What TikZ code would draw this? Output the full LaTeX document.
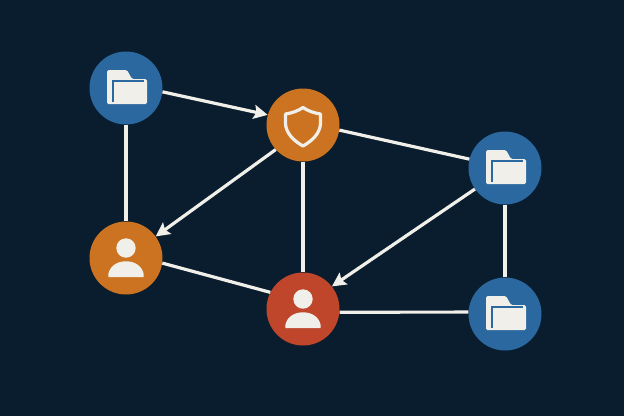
\documentclass[tikz,border=0pt]{standalone}
\usepackage{tikz}
\usetikzlibrary{arrows.meta}

\definecolor{bgdark}{HTML}{0A1D2E}
\definecolor{nodeblue}{HTML}{2A689F}
\definecolor{nodeorange}{HTML}{CB7321}
\definecolor{nodered}{HTML}{BF452B}
\definecolor{paper}{HTML}{F1EFE9}

\tikzset{
    hub/.style={circle,minimum size=73pt,inner sep=0pt,fill=#1},
    link/.style={paper,line width=3.2pt},
    flow/.style={link,-{Stealth[length=14pt,width=14pt,inset=2.5pt]}},
    folder/.pic={
        \fill [paper,rounded corners=1.5pt] (-19,16) -- (-19,-18) -- (1,-18) -- (6,-9) -- (21,-9) -- (21,16) -- cycle;
        \draw [nodeblue,line width=2.6pt] (-13,13.5) -- (-13,-7) -- (17.5,-7);
    },
    shield/.pic={
        \draw [paper,line width=3.2pt,line join=round] (0,-17.5) .. controls (5,-14) and (11,-12) .. (17.5,-11) -- (17.5,-2) .. controls (17.5,8) and (9,16) .. (0,21) .. controls (-9,16) and (-17.5,8) .. (-17.5,-2) -- (-17.5,-11) .. controls (-11,-12) and (-5,-14) .. cycle;
    },
    person/.pic={
        \fill [paper] (0,-10) circle (9.7);
        \fill [paper] (-17.7,19) -- (-17.7,16) .. controls (-16,8) and (-9,3.3) .. (0,3.3) .. controls (9,3.3) and (16,8) .. (17.7,16) -- (17.7,19) -- cycle;
    }
}

\begin{document}
\begin{tikzpicture}[x=1pt,y=-1pt]
    \fill [bgdark] (0,0) rectangle (624,416);
    \useasboundingbox (0,0) rectangle (624,416);

    \node [hub=nodeblue]   (folderA) at (126,88)  {};
    \node [hub=nodeorange] (guard)   at (303,125) {};
    \node [hub=nodeblue]   (folderB) at (505,168) {};
    \node [hub=nodeorange] (userA)   at (126,258) {};
    \node [hub=nodered]    (userB)   at (303,309) {};
    \node [hub=nodeblue]   (folderC) at (505,314) {};

    \draw [flow] (folderA.-6) -- (guard.164);
    \draw [flow] (guard.222) -- (userA.36);
    \draw [flow] (folderB.215) -- (userB.38);
    \draw [link] (guard.-8) -- (folderB.166);
    \draw [link] (folderA) -- (userA);
    \draw [link] (guard) -- (userB);
    \draw [link] (userA.-8) -- (userB.153);
    \draw [link] (userB.-5) -- (folderC.177.2);
    \draw [link] (folderB) -- (folderC);

    \pic at (folderA) {folder};
    \pic at (folderB) {folder};
    \pic at (folderC) {folder};
    \pic at (guard) {shield};
    \pic at (userA) {person};
    \pic at (userB) {person};
\end{tikzpicture}
\end{document}
